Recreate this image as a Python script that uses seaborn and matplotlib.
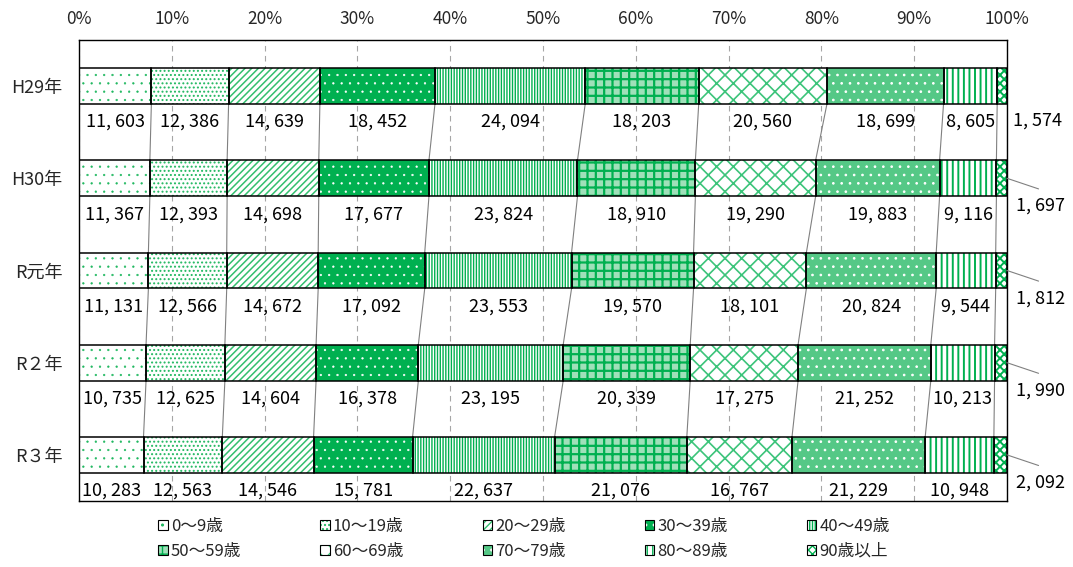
import matplotlib
matplotlib.use("Agg")
import matplotlib.pyplot as plt
from matplotlib.patches import Patch
import numpy as np
import pandas as pd
import seaborn as sns

# ---- data ---------------------------------------------------------------
years = ["H29年", "H30年", "R元年", "R２年", "R３年"]
age_groups = ["0～9歳", "10～19歳", "20～29歳", "30～39歳", "40～49歳",
              "50～59歳", "60～69歳", "70～79歳", "80～89歳", "90歳以上"]
counts_h29 = [11603, 12386, 14639, 18452, 24094, 18203, 20560, 18699, 8605, 1574]
counts_h30 = [11367, 12393, 14698, 17677, 23824, 18910, 19290, 19883, 9116, 1697]
counts_r1 = [11131, 12566, 14672, 17092, 23553, 19570, 18101, 20824, 9544, 1812]
counts_r2 = [10735, 12625, 14604, 16378, 23195, 20339, 17275, 21252, 10213, 1990]
counts_r3 = [10283, 12563, 14546, 15781, 22637, 21076, 16767, 21229, 10948, 2092]
x_ticks = [0, 10, 20, 30, 40, 50, 60, 70, 80, 90, 100]

# ---- styling ------------------------------------------------------------
GREEN = "#00B050"
# (face colour, hatch colour, hatch pattern, hatch line width) per age group
styles = [
    ("white",   "#20b860", "..",     0.4),
    ("white",   "#20b860", "....",   0.9),
    ("white",   "#33bf6e", "/////",  1.1),
    (GREEN,     "white",   "..",     0.4),
    ("white",   GREEN,     "||||||", 1.0),
    ("#9fe0b9", GREEN,     "++",     1.6),
    ("white",   "#3cc47a", "xx",     1.2),
    ("#55c886", "white",   "..",     0.7),
    ("white",   GREEN,     "|||",    1.4),
    ("white",   GREEN,     "xxxx",   1.4),
]

sns.set_theme(style="white")
plt.rcParams["font.family"] = ["Noto Sans CJK JP", "DejaVu Sans"]
plt.rcParams["hatch.linewidth"] = 1.0

counts = np.array([counts_h29, counts_h30, counts_r1, counts_r2, counts_r3], dtype=float)
share = counts / counts.sum(axis=1, keepdims=True) * 100
right = np.cumsum(share, axis=1)
left = right - share
n_years, n_groups = counts.shape
bar_h = 0.39


def apply_style(p, face, hcol, hatch, hlw):
    p.set_facecolor(face)
    p.set_edgecolor(hcol)
    p.set_hatch(hatch)
    p.set_linewidth(0)
    if hasattr(p, "set_hatch_linewidth"):
        p.set_hatch_linewidth(hlw)


fig = plt.figure(figsize=(10.73, 5.67), dpi=100)
ax = fig.add_axes([79 / 1073, 1 - 501 / 567, 928 / 1073, 461 / 567])

# Stacked bars: draw cumulative totals from the outermost group inward,
# so each layer covers the part belonging to the groups before it.
for k in range(n_groups - 1, -1, -1):
    face, hcol, hatch, hlw = styles[k]
    df = pd.DataFrame({"year": years, "cum": right[:, k]})
    n_before = len(ax.patches)
    sns.barplot(data=df, x="cum", y="year", orient="h", color=face,
                saturation=1, width=bar_h, errorbar=None, ax=ax)
    for p in ax.patches[n_before:]:
        apply_style(p, face, hcol, hatch, hlw)
        p.set_zorder(2)

# black outlines of every segment
ypos = np.arange(n_years)
for k in range(n_groups):
    ax.barh(ypos, share[:, k], left=left[:, k], height=bar_h, fill=False,
            edgecolor="black", linewidth=1.1, zorder=3)

# series lines joining segment borders of consecutive bars
for i in range(n_years - 1):
    for k in range(n_groups):
        ax.plot([right[i, k], right[i + 1, k]],
                [i + bar_h / 2, i + 1 - bar_h / 2],
                color="#808080", linewidth=0.8, zorder=1.5)

# value labels under each segment
for i in range(n_years):
    for k in range(n_groups - 1):
        cx = (left[i, k] + right[i, k]) / 2
        ax.text(cx, i + 0.39, f"{int(counts[i, k]):,}".replace(",", ", "),
                ha="center", va="center", fontsize=13, color="black", zorder=4)
    # the last group is labelled outside the bar
    txt = f"{int(counts[i, -1]):,}".replace(",", ", ")
    if i == 0:
        ax.text(103.3, i + 0.37, txt, ha="center", va="center", fontsize=13,
                color="black", clip_on=False)
    else:
        ax.plot([100, 103.4], [i + 0.0, i + 0.115], color="#808080",
                linewidth=0.8, clip_on=False, zorder=4)
        ax.text(103.6, i + 0.30, txt, ha="center", va="center", fontsize=13,
                color="black", clip_on=False)

# axes
ax.set_xlim(0, 100)
ax.set_ylim(n_years - 0.5, -0.5)
ax.set_xticks(x_ticks)
ax.set_xticklabels([f"{t}%" for t in x_ticks], fontsize=12.5)
ax.xaxis.tick_top()
ax.tick_params(axis="x", length=0, pad=9)
ax.tick_params(axis="y", length=0, pad=12, labelsize=13)
ax.set_xlabel("")
ax.set_ylabel("")
ax.grid(axis="x", color="#a6a6a6", linestyle=(0, (5, 4)), linewidth=0.8)
ax.grid(axis="y", visible=False)
ax.set_axisbelow(True)
for s in ax.spines.values():
    s.set_visible(True)
    s.set_color("black")
    s.set_linewidth(1.0)

# legend: two rows of five, filled row by row
handles = []
for face, hcol, hatch, hlw in styles:
    fill_patch = Patch()
    apply_style(fill_patch, face, hcol, hatch, hlw)
    handles.append((fill_patch, Patch(fill=False, edgecolor="black", linewidth=0.8)))
order = [0, 5, 1, 6, 2, 7, 3, 8, 4, 9]
fig.legend([handles[j] for j in order], [age_groups[j] for j in order],
           loc="center", bbox_to_anchor=(524 / 1073, 1 - 539 / 567),
           ncol=5, frameon=False, fontsize=12, handlelength=0.55,
           handleheight=0.55, handletextpad=0.2, columnspacing=4.75,
           labelspacing=0.45, borderpad=0)

fig.savefig("out.png", dpi=100)
